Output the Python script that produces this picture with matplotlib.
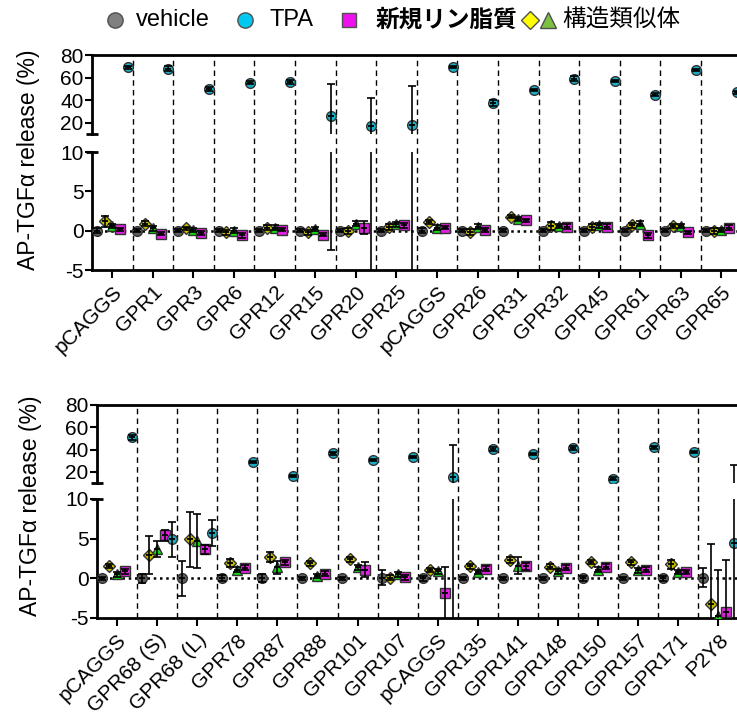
import matplotlib
matplotlib.use('Agg')
import matplotlib.pyplot as plt

plt.rcParams['font.family'] = ['Liberation Sans', 'Noto Sans CJK JP', 'DejaVu Sans']
plt.rcParams['axes.unicode_minus'] = False

# ---- data ----
top_names = ['pCAGGS', 'GPR1', 'GPR3', 'GPR6', 'GPR12', 'GPR15', 'GPR20', 'GPR25',
             'pCAGGS', 'GPR26', 'GPR31', 'GPR32', 'GPR45', 'GPR61', 'GPR63', 'GPR65']
top_vehicle = [0.0] * 16
top_vehicle_sd = [0.3, 0.2, 0.2, 0.2, 0.2, 0.2, 0.2, 0.2, 0.3, 0.2, 0.2, 0.2, 0.2, 0.2, 0.2, 0.2]
top_diamond = [1.2, 0.9, 0.3, -0.2, 0.4, -0.2, 0.0, 0.5, 1.1, -0.2, 1.8, 0.6, 0.5, 0.7, 0.6, 0.0]
top_diamond_sd = [0.7, 0.3, 0.2, 0.3, 0.3, 0.3, 0.4, 0.4, 0.3, 0.4, 0.2, 0.5, 0.4, 0.3, 0.3, 0.4]
top_triangle = [0.6, 0.3, 0.1, 0.0, 0.4, 0.2, 0.9, 0.8, 0.4, 0.5, 1.5, 0.6, 0.7, 0.9, 0.6, 0.1]
top_triangle_sd = [0.3] * 16
top_square = [0.2, -0.4, -0.3, -0.6, 0.1, -0.5, 0.4, 0.7, 0.4, 0.1, 1.3, 0.5, 0.5, -0.6, -0.2, 0.4]
top_square_sd = [0.2, 0.2, 0.3, 0.3, 0.2, 0.2, 0.8, 0.3, 0.2, 0.3, 0.2, 0.3, 0.3, 0.3, 0.2, 0.3]
top_tpa = [69, 68, 50, 55.5, 56, 26, 17, 18, 69.5, 37.5, 49, 59, 57, 45, 67, 47]
top_tpa_sd = [1.5, 2.5, 1.5, 1.5, 1.5, 28.5, 24.5, 35, 1, 2.5, 1, 2, 1, 1, 1, 1.5]

bot_names = ['pCAGGS', 'GPR68 (S)', 'GPR68 (L)', 'GPR78', 'GPR87', 'GPR88', 'GPR101', 'GPR107',
             'pCAGGS', 'GPR135', 'GPR141', 'GPR148', 'GPR150', 'GPR157', 'GPR171', 'P2Y8']
bot_vehicle = [0, 0, 0, 0, 0, 0, 0, 0.1, 0, 0, 0, 0, 0, 0, 0, 0.05]
bot_vehicle_sd = [0.2, 0.6, 2.2, 0.4, 0.5, 0.2, 0.2, 1.0, 0.3, 0.2, 0.2, 0.2, 0.3, 0.2, 0.3, 1.2]
bot_diamond = [1.55, 2.9, 4.9, 1.9, 2.7, 1.9, 2.4, 0.1, 1.05, 1.5, 2.3, 1.45, 2.05, 2.0, 1.75, -3.3]
bot_diamond_sd = [0.3, 2.4, 3.5, 0.5, 0.6, 0.3, 0.3, 0.3, 0.3, 0.3, 0.4, 0.3, 0.3, 0.3, 0.6, 7.6]
bot_triangle = [0.5, 3.7, 4.7, 1.1, 1.4, 0.3, 1.4, 0.5, 0.9, 0.8, 1.6, 0.9, 1.1, 1.0, 0.8, -4.7]
bot_triangle_sd = [0.3, 1.0, 3.4, 0.3, 0.8, 0.3, 0.3, 0.3, 0.3, 0.3, 1.1, 0.3, 0.3, 0.3, 0.3, 5.8]
bot_square = [0.9, 5.4, 3.65, 1.35, 2.0, 0.6, 1.1, 0.15, -1.9, 1.2, 1.5, 1.35, 1.45, 1.1, 0.8, -4.25]
bot_square_sd = [0.3, 0.7, 0.6, 0.3, 0.3, 0.3, 0.9, 0.3, 3.3, 0.3, 0.4, 0.3, 0.3, 0.3, 0.3, 6.6]
bot_tpa = [51, 4.9, 5.7, 29, 16.4, 36.5, 30.5, 33.5, 15.8, 40.5, 36, 41.5, 14, 42, 38, 4.5]
bot_tpa_sd = [2, 2.2, 1.6, 1, 1, 1, 1, 1, 28.4, 1.5, 1, 1.5, 1, 1.5, 1, 21.8]

legend_labels = ['vehicle', 'TPA', '新規リン脂質', '構造類似体']

# series style: (marker, face colour, size, offset within a group)
styles = [
    ('o', '#5e5e5e', 7.0, -0.38),   # vehicle
    ('D', '#c4c000', 6.5, -0.19),   # diamond analogue
    ('^', '#10dc10', 7.0, 0.0),     # triangle analogue
    ('s', '#e020e0', 6.5, 0.19),    # new phospholipid
    ('o', '#18aec4', 7.0, 0.38),    # TPA
]


def draw_series(ax, x, vals, sds, st):
    m, c, ms, off = st
    y0, y1 = ax.get_ylim()
    pts = [(i + off, v, s) for i, v, s in zip(x, vals, sds)]
    mk = [p for p in pts if y0 <= p[1] <= y1]
    eb = [p for p in pts if p[1] + p[2] > y0 and p[1] - p[2] < y1]
    if mk:
        ax.plot([p[0] for p in mk], [p[1] for p in mk], ls='none', marker=m, ms=ms,
                mfc=c, mec='#333333', mew=1.0, zorder=3)
    if eb:
        ax.errorbar([p[0] for p in eb], [p[1] for p in eb], yerr=[p[2] for p in eb],
                    fmt='none', ecolor='black', elinewidth=1.2, capsize=3, capthick=1.2, zorder=4)
    if mk:
        ax.plot([p[0] for p in mk], [p[1] for p in mk], ls='none', marker='_', ms=5,
                mec='black', mew=1.3, zorder=5)


def panel(fig, left, width, up_bottom, up_h, lo_bottom, lo_h, names, series):
    n = len(names)
    x = list(range(n))
    bg = fig.add_axes([left, lo_bottom, width, up_bottom + up_h - lo_bottom], zorder=0)
    bg.set_xlim(-0.5, n - 0.5)
    bg.set_ylim(0, 1)
    bg.axis('off')
    for i in range(n - 1):
        bg.axvline(i + 0.5, color='black', lw=1.0, ls=(0, (4, 3)))

    up = fig.add_axes([left, up_bottom, width, up_h], zorder=1)
    lo = fig.add_axes([left, lo_bottom, width, lo_h], zorder=1)
    up.set_ylim(10, 80)
    lo.set_ylim(-5, 10)
    for ax in (up, lo):
        ax.set_facecolor('none')
        ax.set_xlim(-0.5, n - 0.5)
        for st, (vals, sds) in zip(styles, series):
            draw_series(ax, x, vals, sds, st)
        ax.spines['right'].set_visible(False)
        ax.tick_params(axis='y', direction='out', length=5, width=1.5, labelsize=15, pad=1)
        for s in ax.spines.values():
            s.set_linewidth(2)

    up.set_yticks([20, 40, 60, 80])
    up.spines['bottom'].set_visible(False)
    up.set_xticks([])
    up.plot([-0.009, 0.009], [0, 0], transform=up.transAxes, color='black', lw=2,
            clip_on=False, solid_capstyle='butt')

    lo.set_yticks([-5, 0, 5, 10])
    lo.spines['top'].set_visible(False)
    lo.plot([-0.009, 0.009], [1, 1], transform=lo.transAxes, color='black', lw=2,
            clip_on=False, solid_capstyle='butt')
    lo.axhline(0, color='black', lw=1.8, ls=(0, (1, 1.5)), zorder=2)
    lo.set_xticks(x)
    lo.set_xticklabels(names, rotation=45, ha='right', rotation_mode='anchor', fontsize=15)
    lo.tick_params(axis='x', direction='out', length=6, width=1.5, pad=3)
    return up, lo


fig = plt.figure(figsize=(7.37, 7.16), dpi=100)

top_series = [(top_vehicle, top_vehicle_sd), (top_diamond, top_diamond_sd),
              (top_triangle, top_triangle_sd), (top_square, top_square_sd), (top_tpa, top_tpa_sd)]
bot_series = [(bot_vehicle, bot_vehicle_sd), (bot_diamond, bot_diamond_sd),
              (bot_triangle, bot_triangle_sd), (bot_square, bot_square_sd), (bot_tpa, bot_tpa_sd)]

panel(fig, 0.1248, 0.8814, 0.8128, 0.1103, 0.6229, 0.1648, top_names, top_series)
panel(fig, 0.1315, 0.8706, 0.3254, 0.1090, 0.1369, 0.1662, bot_names, bot_series)

fig.text(0.038, 0.777, 'AP-TGFα release (%)', rotation=90, ha='center', va='center', fontsize=16.5)
fig.text(0.042, 0.293, 'AP-TGFα release (%)', rotation=90, ha='center', va='center', fontsize=16.5)

# legend strip along the top, laid out in pixel units
lg = fig.add_axes([0, 1 - 40 / 716, 1, 40 / 716])
lg.set_xlim(0, 737)
lg.set_ylim(40, 0)
lg.axis('off')
leg_marks = [
    [('o', '#808080', 11, 115)],
    [('o', '#00c8f0', 11, 245)],
    [('s', '#ee11ee', 10.5, 349)],
    [('D', '#ffff00', 9, 530), ('^', '#7cc142', 11, 548)],
]
leg_text_x = [136, 270, 376, 562]
for marks, lab, tx in zip(leg_marks, legend_labels, leg_text_x):
    for m, c, ms, mx in marks:
        lg.plot([mx], [20], ls='none', marker=m, ms=ms, mfc=c, mec='#505050', mew=1)
    lg.text(tx, 20, lab, ha='left', va='center', fontsize=17,
            fontweight='bold' if lab == '新規リン脂質' else 'normal')

fig.savefig('out.png', dpi=100)
